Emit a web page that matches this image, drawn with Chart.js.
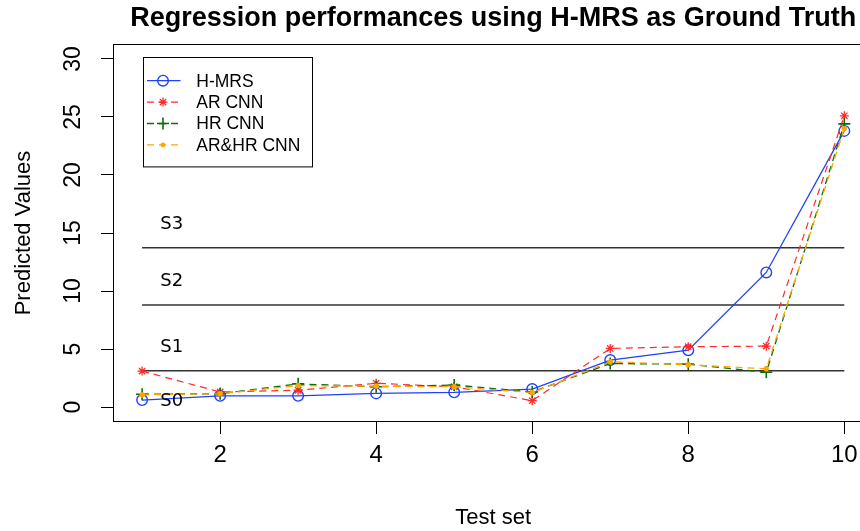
<!DOCTYPE html>
<html><head><meta charset="utf-8">
<script src="https://cdn.jsdelivr.net/npm/chart.js@4/dist/chart.umd.min.js"></script>
<style>html,body{margin:0;padding:0;overflow:hidden;background:#fff}#wrap{width:880px;height:531px}canvas{display:block}</style>
</head><body><div id="wrap"><canvas id="c" width="880" height="531"></canvas></div>
<script>
// ---- data ----
const testSet = [1, 2, 3, 4, 5, 6, 7, 8, 9, 10];
const hmrs    = [0.6, 0.97, 0.97, 1.18, 1.27, 1.55, 4.05, 4.9, 11.6, 23.8];
const arCnn   = [3.1, 1.3, 1.45, 2.05, 1.75, 0.55, 5.05, 5.2, 5.25, 25.1];
const hrCnn   = [1.1, 1.15, 2.0, 1.75, 1.9, 1.3, 3.75, 3.7, 3.0, 24.4];
const arhrCnn = [1.05, 1.15, 1.85, 1.8, 1.75, 1.25, 3.9, 3.65, 3.3, 24.0];
const seriesNames = ['H-MRS', 'AR CNN', 'HR CNN', 'AR&HR CNN'];
const xTicks = [2, 4, 6, 8, 10];
const yTicks = [0, 5, 10, 15, 20, 25, 30];
const stageValues = [3.13, 8.8, 13.73];
const stageLabels = ['S0', 'S1', 'S2', 'S3'];
const stageLabelY = [0.5, 5.13, 10.8, 15.73];
const stageLabelX = 1.38;

const FAMILY = "'Liberation Sans', Arial, Helvetica, sans-serif";
const toXY = vals => vals.map((v, i) => ({x: testSet[i], y: v}));

const series = [
  {label: seriesNames[0], data: toXY(hmrs), borderColor: '#2040ff', borderWidth: 1.3, borderDash: [],
   pointStyle: 'circle', pointRadius: 5.3, pointBackgroundColor: 'rgba(0,0,0,0)', pointBorderWidth: 1.4, order: 4, mk: 'circle'},
  {label: seriesNames[1], data: toXY(arCnn), borderColor: '#ff2a2a', borderWidth: 1.2, borderDash: [7, 5],
   pointStyle: 'star', pointRadius: 4.5, pointBackgroundColor: '#ff2a2a', pointBorderWidth: 1.3, order: 3, mk: 'star'},
  {label: seriesNames[2], data: toXY(hrCnn), borderColor: '#0a6e0a', borderWidth: 1.3, borderDash: [7, 5],
   pointStyle: 'cross', pointRadius: 6, pointBackgroundColor: '#0a6e0a', pointBorderWidth: 1.6, order: 2, mk: 'cross'},
  {label: seriesNames[3], data: toXY(arhrCnn), borderColor: '#ffa500', borderWidth: 1.3, borderDash: [7, 5],
   pointStyle: 'circle', pointRadius: 2.4, pointBackgroundColor: '#ffa500', pointBorderWidth: 1, order: 1, mk: 'dot'}
].map(d => Object.assign({type: 'line', fill: false, tension: 0, pointBorderColor: d.borderColor, legendEntry: true}, d));

const thresholdSets = stageValues.map(v => ({
  type: 'line', label: '', data: [{x: testSet[0], y: v}, {x: testSet[testSet.length - 1], y: v}],
  borderColor: '#333', borderWidth: 1.6, pointRadius: 0, fill: false, order: 5, legendEntry: false
}));

function drawMarker(ctx, mk, x, y, color) {
  ctx.save();
  ctx.strokeStyle = color; ctx.fillStyle = color; ctx.setLineDash([]);
  ctx.beginPath();
  if (mk === 'circle') { ctx.lineWidth = 1.4; ctx.arc(x, y, 5.3, 0, Math.PI * 2); ctx.stroke(); }
  else if (mk === 'dot') { ctx.arc(x, y, 2.4, 0, Math.PI * 2); ctx.fill(); }
  else if (mk === 'cross') { ctx.lineWidth = 1.6; ctx.moveTo(x - 6, y); ctx.lineTo(x + 6, y); ctx.moveTo(x, y - 6); ctx.lineTo(x, y + 6); ctx.stroke(); }
  else if (mk === 'star') {
    ctx.lineWidth = 1.3; const r = 4.5, d = r * Math.SQRT1_2;
    ctx.moveTo(x - r, y); ctx.lineTo(x + r, y); ctx.moveTo(x, y - r); ctx.lineTo(x, y + r);
    ctx.moveTo(x - d, y - d); ctx.lineTo(x + d, y + d); ctx.moveTo(x - d, y + d); ctx.lineTo(x + d, y - d); ctx.stroke();
  }
  ctx.restore();
}

const decor = {
  id: 'decor',
  afterDatasetsDraw(chart) {
    const {ctx, chartArea: a, scales: {x, y}} = chart;
    ctx.save();
    // plot box
    ctx.strokeStyle = '#000'; ctx.lineWidth = 1; ctx.setLineDash([]);
    ctx.strokeRect(a.left - 0.5, a.top - 0.5, a.right - a.left + 1, a.bottom - a.top + 1);
    // stage labels
    ctx.fillStyle = '#000'; ctx.font = "18px 'DejaVu Sans', sans-serif";
    ctx.textAlign = 'center'; ctx.textBaseline = 'middle';
    stageLabels.forEach((t, i) => ctx.fillText(t, x.getPixelForValue(stageLabelX), y.getPixelForValue(stageLabelY[i])));
    // legend
    const lx = a.left + 29, ly = a.top + 12.3, lw = 169, lh = 109.4;
    ctx.fillStyle = '#fff'; ctx.fillRect(lx, ly, lw, lh);
    ctx.strokeStyle = '#000'; ctx.lineWidth = 1;
    ctx.strokeRect(Math.round(lx) + 0.5, Math.round(ly) + 0.5, lw, lh);
    const entries = chart.data.datasets.filter(d => d.legendEntry);
    ctx.font = '17.5px ' + FAMILY; ctx.textAlign = 'left'; ctx.textBaseline = 'middle';
    entries.forEach((d, i) => {
      const ey = ly + 23.4 + i * 21.4;
      ctx.strokeStyle = d.borderColor; ctx.lineWidth = d.borderWidth; ctx.setLineDash(d.borderDash);
      ctx.beginPath(); ctx.moveTo(lx + 4, ey); ctx.lineTo(lx + 37.5, ey); ctx.stroke();
      ctx.setLineDash([]);
      drawMarker(ctx, d.mk, lx + 20, ey, d.borderColor);
      ctx.fillStyle = '#000';
      ctx.fillText(d.label, lx + 53.3, ey + 1);
    });
    ctx.restore();
  }
};

new Chart(document.getElementById('c'), {
  type: 'line',
  data: {datasets: [...thresholdSets, ...series]},
  options: {
    responsive: false, animation: false, devicePixelRatio: 1,
    layout: {padding: {left: 0, right: 4, top: 0, bottom: 0}},
    plugins: {
      legend: {display: false}, tooltip: {enabled: false},
      title: {display: true, fullSize: false, text: 'Regression performances using H-MRS as Ground Truth', color: '#000',
        font: {family: FAMILY, size: 27, weight: 'bold', lineHeight: 1.2}, padding: {top: 2.1, bottom: 10.5}}
    },
    scales: {
      x: {
        type: 'linear', min: 0.64, max: 10.36,
        afterBuildTicks: s => { s.ticks = xTicks.map(v => ({value: v})); },
        afterFit: s => { s.height = 110; },
        border: {display: false},
        grid: {drawOnChartArea: false, drawTicks: true, tickLength: 13, tickColor: '#000', tickWidth: 1},
        ticks: {padding: 7.2, minRotation: 0, maxRotation: 0, autoSkip: false, color: '#000', font: {family: FAMILY, size: 24}},
        title: {display: true, text: 'Test set', color: '#000', font: {family: FAMILY, size: 22, lineHeight: 1.2}, padding: {top: 0, bottom: 0}}
      },
      y: {
        type: 'linear', min: -1.2, max: 31.2,
        afterBuildTicks: s => { s.ticks = yTicks.map(v => ({value: v})); },
        afterFit: s => { s.width = 114; },
        border: {display: false},
        grid: {drawOnChartArea: false, drawTicks: true, tickLength: 13, tickColor: '#000', tickWidth: 1},
        ticks: {minRotation: 90, maxRotation: 90, crossAlign: 'center', padding: 14.4, color: '#000', font: {family: FAMILY, size: 23}},
        title: {display: true, text: 'Predicted Values', color: '#000', font: {family: FAMILY, size: 22, lineHeight: 1.2}, padding: {top: 10.3, bottom: 0}}
      }
    }
  },
  plugins: [decor]
});
</script>
</body></html>
